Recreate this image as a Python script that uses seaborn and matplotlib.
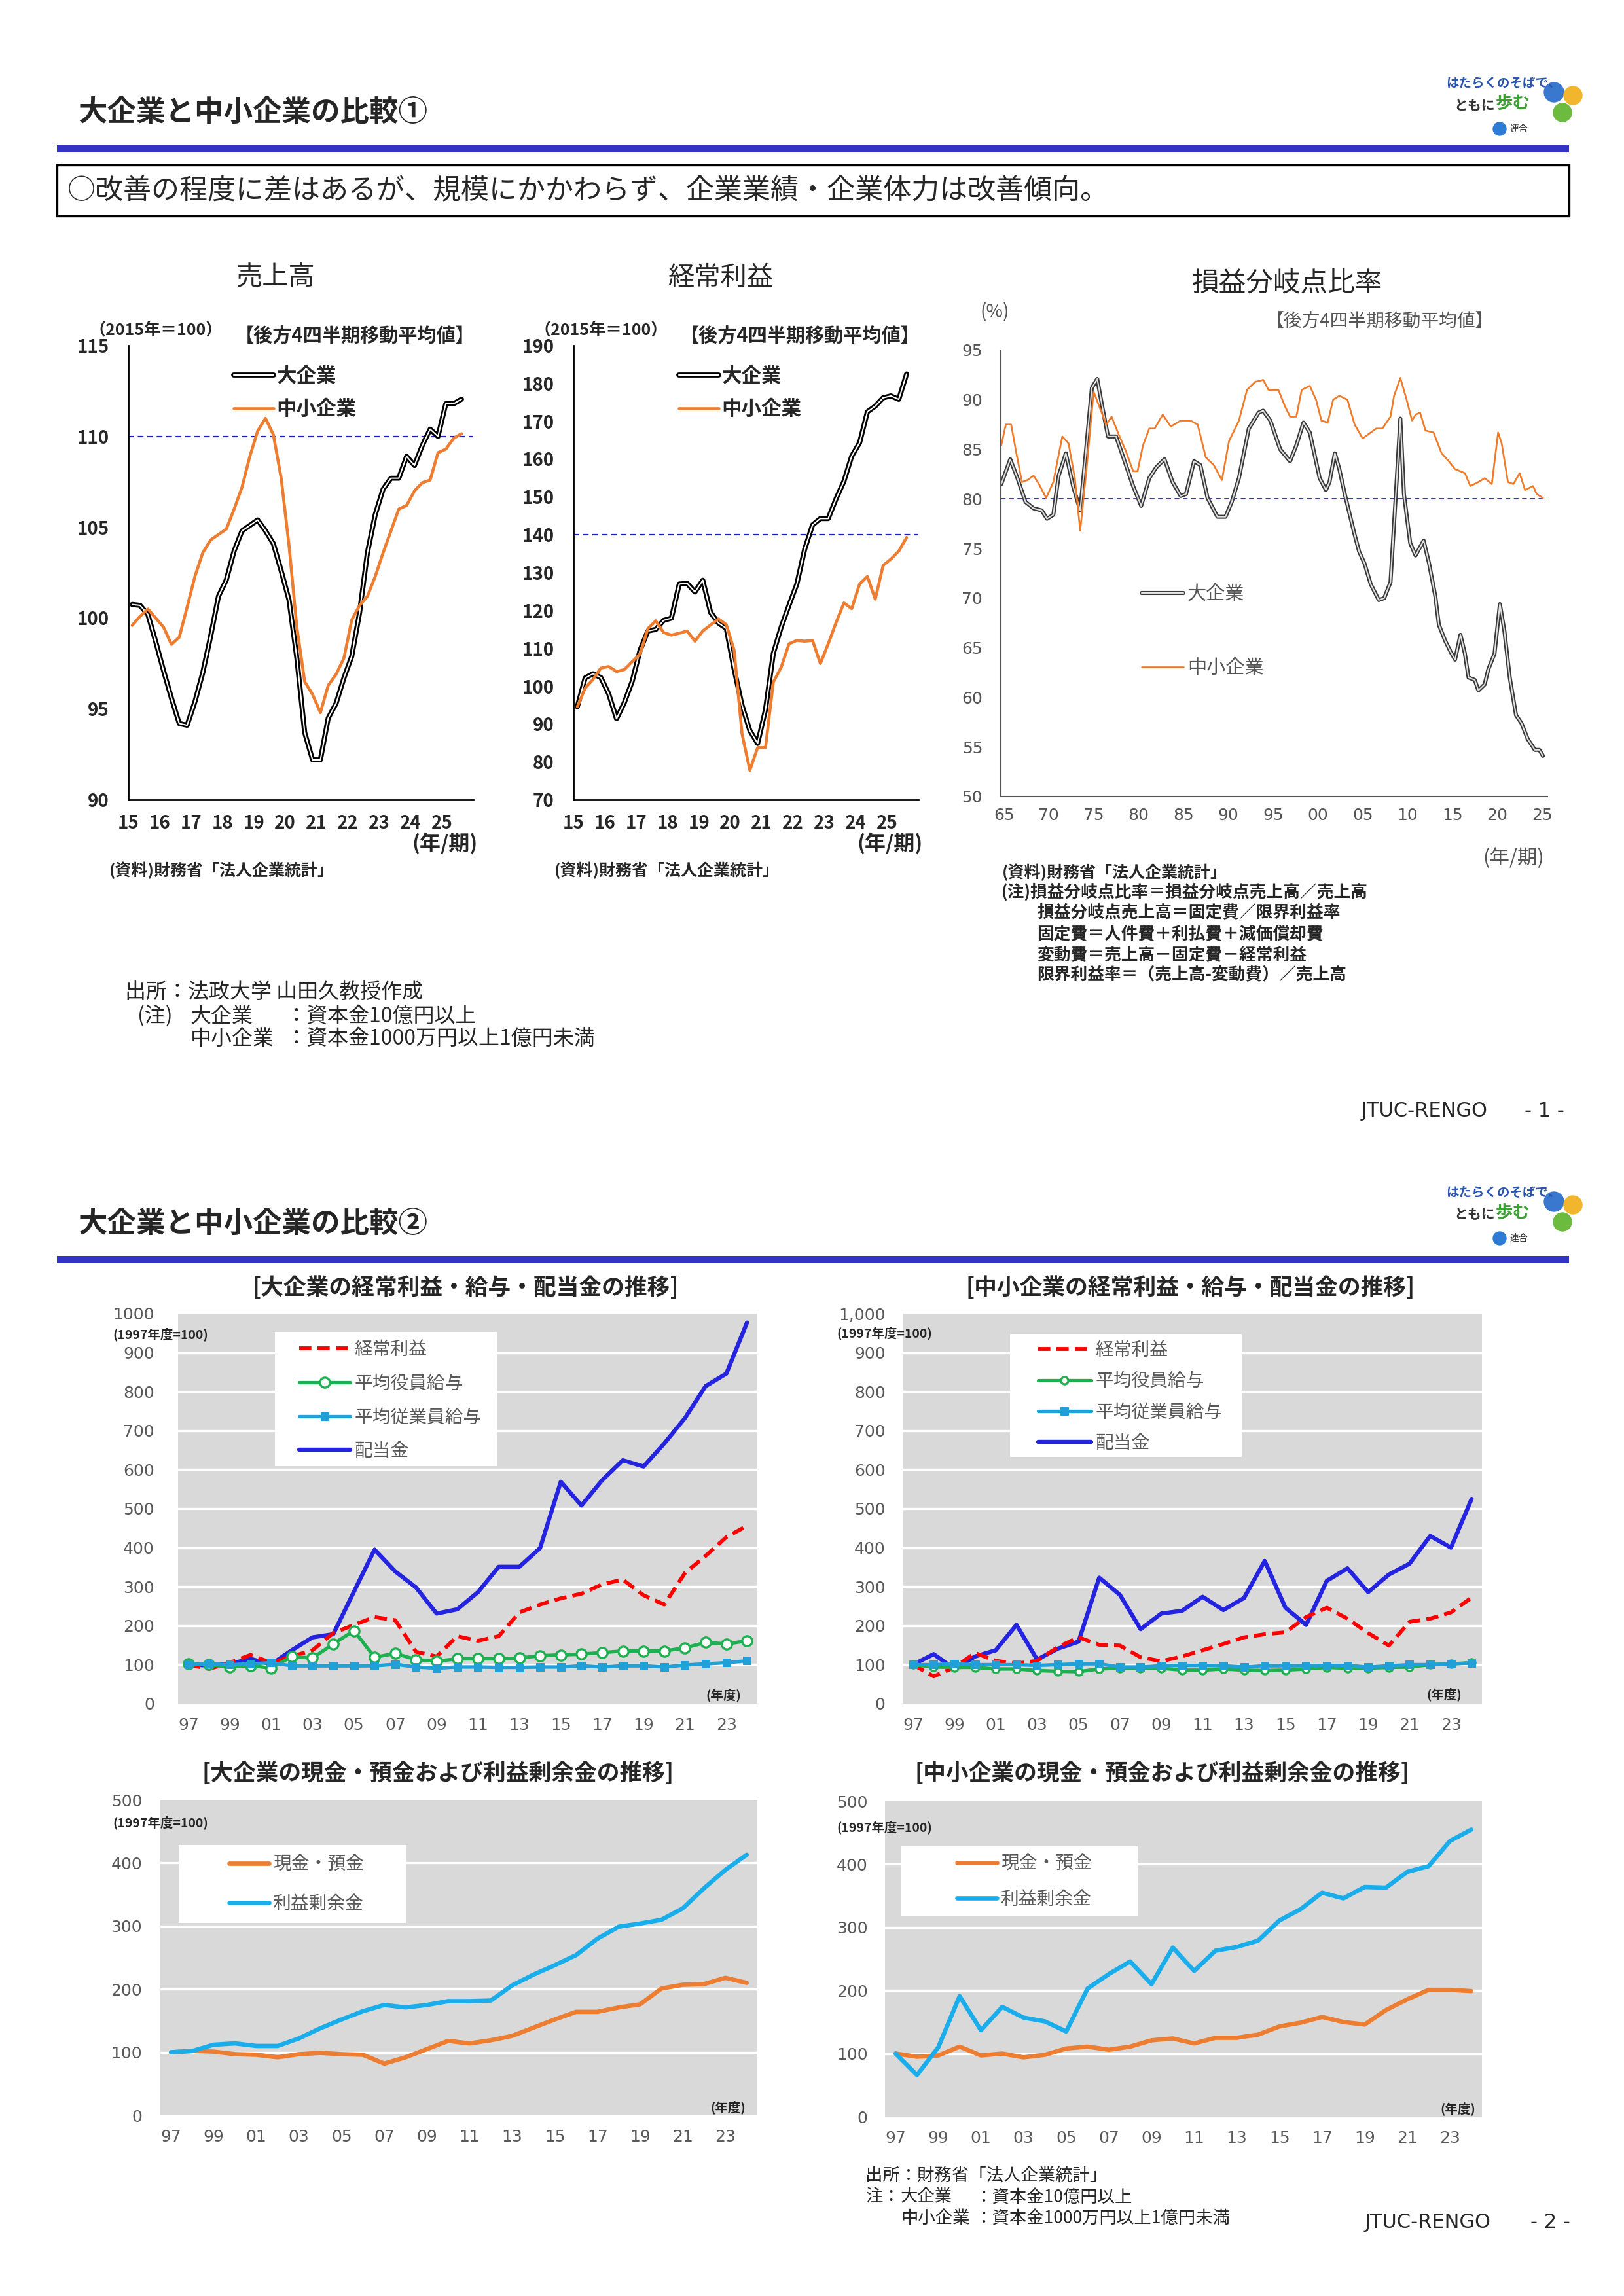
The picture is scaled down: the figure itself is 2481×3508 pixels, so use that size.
import numpy as np
import pandas as pd
import matplotlib
matplotlib.use("Agg")
import matplotlib.pyplot as plt
import matplotlib.patheffects as pe
from matplotlib.patches import Rectangle, Circle
from matplotlib import font_manager
import seaborn as sns

# ---------------- data ----------------
# 売上高 / 経常利益 (2015年=100, 後方4四半期移動平均), 2015Q1 .. 2025Q3
quarter_pos = 15.125 + np.arange(43) / 4

sales_large = [100.75, 100.7, 100.2, 98.7, 97.1, 95.6, 94.2, 94.1, 95.4, 97.0, 99.0, 101.2, 102.1,
               103.7, 104.8, 105.1, 105.4, 104.8, 104.1, 102.6, 101.0, 97.8, 93.7, 92.2, 92.2, 94.5,
               95.3, 96.7, 97.9, 100.3, 103.6, 105.7, 107.1, 107.7, 107.7, 108.9, 108.4, 109.5, 110.4,
               110.0, 111.8, 111.8, 112.05]
sales_small = [99.6, 100.1, 100.5, 100.0, 99.5, 98.55, 98.95, 100.6, 102.3, 103.6, 104.3, 104.6, 104.9,
               106.0, 107.2, 108.9, 110.3, 111.0, 110.1, 107.7, 104.0, 99.5, 96.5, 95.8, 94.8, 96.3,
               96.9, 97.8, 99.9, 100.7, 101.2, 102.3, 103.6, 104.8, 106.0, 106.2, 107.0, 107.45, 107.6,
               109.1, 109.3, 109.9, 110.15]
profit_large = [94.6, 102.2, 103.3, 102.3, 98.0, 91.4, 95.7, 101.3, 109.5, 114.6, 115.0, 117.4, 118.0,
                127.0, 127.2, 124.9, 128.0, 119.5, 116.7, 115.3, 104.5, 95.0, 88.3, 84.9, 93.8, 108.7,
                115.6, 121.4, 127.0, 136.2, 142.6, 144.3, 144.3, 149.5, 154.1, 160.8, 164.3, 172.5,
                174.0, 176.2, 176.7, 175.8, 182.5]
profit_small = [94.6, 99.5, 101.8, 104.8, 105.2, 103.9, 104.4, 106.5, 108.5, 115.2, 117.3, 114.2, 113.5,
                114.0, 114.6, 111.9, 114.6, 116.2, 117.8, 116.3, 109.5, 87.5, 77.8, 83.8, 83.8, 101.1,
                105.0, 111.2, 112.1, 111.9, 112.1, 106.0, 111.2, 116.8, 122.0, 120.5, 127.0, 129.0,
                123.0, 131.9, 133.6, 135.7, 139.3]

# 損益分岐点比率 (%)
be_year_large = [1964.7, 1965.7, 1966.5, 1967.4, 1968.3, 1969.2, 1969.8, 1970.5, 1971.1, 1971.9, 1972.7,
                 1973.5, 1974.2, 1974.8, 1975.4, 1975.9, 1976.6, 1977.5, 1978.3, 1979.4, 1980.3, 1981.2,
                 1982.0, 1982.9, 1983.8, 1984.7, 1985.3, 1986.2, 1986.9, 1987.7, 1988.8, 1989.7, 1990.4,
                 1991.2, 1992.3, 1993.4, 1993.9, 1994.7, 1995.8, 1996.9, 1997.6, 1998.4, 1999.1, 2000.2,
                 2000.9, 2001.3, 2001.9, 2002.4, 2003.0, 2004.1, 2004.6, 2005.2, 2005.9, 2006.8, 2007.4,
                 2008.1, 2008.7, 2009.2, 2009.6, 2010.3, 2010.9, 2011.8, 2012.4, 2013.1, 2013.5, 2014.2,
                 2014.8, 2015.3, 2015.9, 2016.4, 2016.8, 2017.5, 2017.9, 2018.6, 2019.0, 2019.7, 2020.3,
                 2020.8, 2021.4, 2022.1, 2022.7, 2023.4, 2024.2, 2024.7, 2025.1]
be_large = [81.5, 84.0, 82.1, 79.7, 79.05, 78.85, 78.0, 78.4, 82.35, 84.6, 81.3, 78.85, 85.4, 91.2, 92.1,
            89.6, 86.3, 86.3, 84.2, 81.3, 79.3, 82.1, 83.2, 84.0, 81.7, 80.3, 80.5, 83.8, 83.4, 80.1,
            78.2, 78.2, 79.7, 82.1, 87.1, 88.7, 88.9, 87.9, 85.0, 83.8, 85.4, 87.7, 86.7, 82.1, 80.9,
            81.7, 84.6, 83.0, 80.5, 76.4, 74.7, 73.5, 71.4, 69.8, 70.0, 71.6, 80.5, 88.1, 80.5, 75.55,
            74.3, 75.8, 73.5, 70.2, 67.3, 65.7, 64.6, 63.8, 66.3, 64.4, 62.0, 61.75, 60.7, 61.3, 62.8,
            64.4, 69.4, 66.7, 62.0, 58.2, 57.4, 55.8, 54.7, 54.7, 54.1]
be_year_small = [1964.7, 1965.2, 1965.8, 1966.3, 1967.0, 1967.6, 1968.3, 1968.9, 1969.7, 1970.5, 1971.5,
                 1972.2, 1972.9, 1973.5, 1974.2, 1975.0, 1975.7, 1976.4, 1977.0, 1977.7, 1978.6, 1979.4,
                 1979.9, 1980.5, 1981.2, 1981.8, 1982.7, 1983.6, 1984.7, 1985.8, 1986.6, 1987.5, 1988.4,
                 1989.3, 1990.1, 1991.2, 1992.1, 1993.0, 1993.9, 1994.5, 1995.6, 1996.3, 1996.9, 1997.6,
                 1998.2, 1999.1, 1999.8, 2000.4, 2001.1, 2001.7, 2002.4, 2003.3, 2004.1, 2005.0, 2005.9,
                 2006.5, 2007.2, 2008.1, 2008.5, 2009.2, 2009.9, 2010.5, 2010.9, 2011.4, 2012.0, 2012.9,
                 2013.8, 2014.6, 2015.3, 2016.4, 2017.0, 2017.9, 2018.6, 2019.4, 2020.1, 2020.5, 2021.2,
                 2021.8, 2022.5, 2023.1, 2024.0, 2024.4, 2025.1]
be_small = [85.4, 87.5, 87.5, 85.0, 81.7, 81.9, 82.35, 81.5, 80.1, 81.7, 86.3, 85.6, 82.1, 76.8, 83.0,
            90.8, 89.15, 87.5, 88.3, 86.7, 84.8, 82.8, 82.8, 85.4, 87.1, 87.1, 88.5, 87.3, 87.9, 87.9,
            87.5, 84.2, 83.4, 81.9, 85.85, 87.9, 91.0, 91.8, 92.0, 91.0, 91.0, 89.4, 88.3, 88.3, 91.0,
            91.4, 90.0, 87.9, 87.7, 90.0, 90.4, 90.0, 87.5, 86.1, 86.7, 87.1, 87.1, 88.3, 90.4, 92.2,
            90.0, 87.9, 88.5, 88.7, 86.9, 86.7, 84.6, 83.8, 83.0, 82.6, 81.3, 81.7, 82.1, 81.5, 86.7,
            85.6, 81.7, 81.5, 82.6, 80.9, 81.3, 80.5, 80.1]

# page 2 (1997年度=100)
fiscal_years = list(range(1997, 2025))
lg_profit = [100, 89, 105, 125, 105, 121, 137, 181, 202, 222, 214, 133, 121, 173, 161, 173, 234, 254,
             270, 282, 306, 318, 278, 254, 335, 379, 427, 456]
lg_exec = [103, 100, 94, 98, 91, 121, 117, 153, 187, 119, 129, 113, 109, 115, 115, 115, 117, 123, 125,
           127, 131, 135, 135, 135, 143, 157, 153, 161]
lg_emp = [100, 102, 100, 102, 105, 97, 97, 97, 97, 97, 101, 94, 91, 94, 94, 93, 93, 94, 94, 97, 94, 97,
          97, 94, 99, 102, 105, 110]
lg_div = [100, 98, 102, 115, 101, 137, 170, 178, 287, 395, 339, 298, 231, 242, 286, 351, 351, 399, 569,
          508, 573, 624, 608, 667, 732, 814, 846, 977]
sm_profit = [100, 70, 93, 130, 110, 103, 110, 145, 170, 151, 149, 119, 109, 121, 137, 153, 170, 178,
             183, 222, 246, 218, 181, 149, 210, 218, 234, 272]
sm_exec = [100, 94, 93, 93, 89, 89, 85, 83, 82, 89, 91, 91, 91, 86, 86, 89, 86, 85, 86, 89, 93, 91, 91,
           93, 94, 100, 102, 105]
sm_emp = [100, 100, 102, 100, 100, 100, 98, 100, 102, 102, 94, 94, 97, 98, 98, 97, 94, 97, 97, 97, 98,
          98, 94, 97, 100, 100, 102, 104]
sm_div = [100, 127, 89, 121, 137, 202, 113, 141, 159, 323, 279, 191, 231, 238, 274, 240, 271, 366, 246,
          202, 315, 347, 286, 331, 359, 430, 400, 525]
lg_cash = [100, 102, 101, 97, 96, 92, 97, 99, 97, 96, 82, 92, 105, 118, 114, 119, 126, 139, 152, 164,
           164, 171, 176, 201, 207, 208, 218, 210]
lg_retained = [100, 102, 112, 114, 110, 110, 122, 138, 152, 165, 175, 171, 175, 181, 181, 182, 206, 223,
               238, 254, 280, 299, 304, 310, 328, 360, 389, 413]
sm_cash = [100, 95, 97, 111, 97, 100, 94, 98, 108, 111, 106, 111, 121, 124, 116, 125, 125, 130, 143,
           149, 158, 150, 146, 169, 186, 201, 201, 199]
sm_retained = [100, 66, 110, 191, 137, 174, 157, 151, 135, 203, 226, 246, 210, 268, 231, 263, 269, 279,
               311, 329, 355, 346, 364, 363, 388, 397, 437, 455]

# ---------------- setup ----------------
sns.set_style("white")
plt.rcParams["font.family"] = ["Noto Sans CJK JP", "DejaVu Sans"]
names = {f.name for f in font_manager.fontManager.ttflist}
NARROW = "Liberation Sans Narrow" if "Liberation Sans Narrow" in names else "DejaVu Sans"

W, H = 2481, 3508
fig = plt.figure(figsize=(W / 100, H / 100), dpi=100)
fig.patch.set_facecolor("white")

GRAY_TXT = "#595959"
ORANGE = "#ED7D31"


def box(x0, y0, x1, y1):
    return fig.add_axes([x0 / W, 1 - y1 / H, (x1 - x0) / W, (y1 - y0) / H])


def txt(x, y, s, size, ha="left", va="center", **kw):
    fig.text(x / W, 1 - y / H, s, fontsize=size, ha=ha, va=va, **kw)


def logo(y0):
    # rough copy of the RENGO logo, local pixel units
    lax = box(2185, y0, 2425, y0 + 115)
    lax.set_xlim(0, 240)
    lax.set_ylim(115, 0)
    lax.axis("off")
    lax.add_patch(Circle((189, 38), 15, color="#3A78D0"))
    lax.add_patch(Circle((218, 43), 14, color="#F2B62E"))
    lax.add_patch(Circle((202, 69), 14, color="#6DBB3E"))
    lax.text(24, 24, "はたらくのそばで、", fontsize=14, color="#2A55B0", weight="bold", va="center")
    lax.text(36, 58, "ともに", fontsize=15, color="#333333", weight="bold", va="center")
    lax.text(100, 56, "歩む", fontsize=19, color="#3DA035", weight="bold", va="center")
    lax.add_patch(Circle((106, 94), 10, color="#2E7BD6"))
    lax.text(122, 94, "連合", fontsize=10, color="#333333", va="center")


def header(title, y_title, y_bar, y_logo):
    txt(119, y_title, title, 32, weight="bold")
    fig.add_artist(Rectangle((87 / W, 1 - (y_bar + 11) / H), (2397 - 87) / W, 11 / H,
                             transform=fig.transFigure, color="#3434C4", lw=0))
    logo(y_logo)


# ================= page 1 =================
header("大企業と中小企業の比較①", 172, 222, 103)
fig.add_artist(Rectangle((87 / W, 1 - 330 / H), (2397 - 87) / W, 78 / H, transform=fig.transFigure,
                         facecolor="none", edgecolor="black", lw=2.4))
txt(103, 292, "○改善の程度に差はあるが、規模にかかわらず、企業業績・企業体力は改善傾向。", 31)


def quarterly_chart(x0, large, small, ylim, ystep, ref, title):
    ax = box(x0, 528, x0 + 527, 1222)
    df = pd.DataFrame({"q": quarter_pos, "large": large, "small": small})
    sns.lineplot(data=df, x="q", y="large", ax=ax, color="white", lw=1.5, label="大企業", legend=False,
                 path_effects=[pe.Stroke(linewidth=5.6, foreground="black"), pe.Normal()])
    sns.lineplot(data=df, x="q", y="small", ax=ax, color=ORANGE, lw=3.3, label="中小企業", legend=False)
    ax.axhline(ref, color="#1F1FC0", lw=1.6, ls=(0, (4, 2.5)), zorder=1)
    ax.set(xlabel="", ylabel="", xlim=(15, 26), ylim=ylim)
    yt = list(range(ylim[0], ylim[1] + 1, ystep))
    ax.set_yticks(yt, labels=[str(v) for v in yt], fontsize=20, fontweight="bold")
    ax.set_xticks(range(15, 27), labels=[str(v) for v in range(15, 26)] + [""], fontsize=20,
                  fontweight="bold")
    ax.tick_params(axis="y", direction="in", length=8, width=1.6, pad=21)
    ax.tick_params(axis="x", direction="out", length=7, width=1.6, pad=9)
    for s in ("top", "right"):
        ax.spines[s].set_visible(False)
    for s in ("left", "bottom"):
        ax.spines[s].set_linewidth(2)
        ax.spines[s].set_color("black")
    ax.legend(loc="upper left", bbox_to_anchor=((x0 + 161) / W, 1 - 559 / H), bbox_transform=fig.transFigure,
              frameon=False, prop={"size": 22, "weight": "bold"}, handlelength=2.0, handletextpad=0.15,
              labelspacing=0.6, borderpad=0, borderaxespad=0)
    txt(x0 + 225, 424, title, 29, ha="center")
    txt(x0 - 60, 505, "（2015年＝100）", 18, weight="bold")
    txt(x0 + 163, 514, "【後方4四半期移動平均値】", 21, weight="bold")
    txt(x0 + 483, 1289, "(年/期)", 23, ha="center", weight="bold")
    txt(x0 - 29, 1330, "(資料)財務省「法人企業統計」", 18, weight="bold")
    return ax


quarterly_chart(196, sales_large, sales_small, (90, 115), 5, 110, "売上高")
quarterly_chart(876, profit_large, profit_small, (70, 190), 10, 140, "経常利益")

# 損益分岐点比率
ax3 = box(1529, 535, 2364, 1217)
dfl = pd.DataFrame({"year": be_year_large, "ratio": be_large})
dfs = pd.DataFrame({"year": be_year_small, "ratio": be_small})
sns.lineplot(data=dfl, x="year", y="ratio", ax=ax3, color="#E2E2E2", lw=1.5, label="大企業", legend=False,
             path_effects=[pe.Stroke(linewidth=4.4, foreground="#3A3A3A"), pe.Normal()])
sns.lineplot(data=dfs, x="year", y="ratio", ax=ax3, color="#EE7A2A", lw=1.9, label="中小企業", legend=False)
ax3.axhline(80, color="#1F1FC0", lw=1.3, ls=(0, (4, 3)), zorder=1)
ax3.set(xlabel="", ylabel="", xlim=(1964.65, 2025.6), ylim=(50, 95))
ax3.set_xticks(range(1965, 2026, 5), labels=[f"{y % 100:02d}" for y in range(1965, 2026, 5)],
               fontsize=18, family=NARROW, color="#555555")
ax3.set_xticks(range(1965, 2026), minor=True)
ax3.set_yticks(range(50, 96, 5), labels=[str(v) for v in range(50, 96, 5)], fontsize=18, family=NARROW,
               color="#555555")
ax3.tick_params(axis="both", which="both", direction="in", color="#555555", width=1.2)
ax3.tick_params(axis="x", which="major", length=7, pad=12)
ax3.tick_params(axis="x", which="minor", length=5)
ax3.tick_params(axis="y", length=7, pad=20)
for s in ("top", "right"):
    ax3.spines[s].set_visible(False)
for s in ("left", "bottom"):
    ax3.spines[s].set_color("#555555")
    ax3.spines[s].set_linewidth(1.5)
ax3.legend(loc="upper left", bbox_to_anchor=(1744 / W, 1 - 893 / H), bbox_transform=fig.transFigure,
           frameon=False, fontsize=21, labelcolor="#555555", handlelength=2.2, handletextpad=0.2,
           labelspacing=2.85, borderpad=0, borderaxespad=0)
txt(1966, 433, "損益分岐点比率", 30, ha="center")
txt(1520, 477, "(%)", 20, ha="center", color="#555555")
txt(1933, 492, "【後方4四半期移動平均値】", 20, color="#555555")
txt(2312, 1311, "(年/期)", 22, ha="center", color="#555555")
txt(1531, 1333, "(資料)財務省「法人企業統計」", 18, weight="bold")
notes = [(1530, 1363, "(注)損益分岐点比率＝損益分岐点売上高／売上高"),
         (1584, 1395, "損益分岐点売上高＝固定費／限界利益率"),
         (1584, 1428, "固定費＝人件費＋利払費＋減価償却費"),
         (1584, 1460, "変動費＝売上高－固定費－経常利益"),
         (1584, 1490, "限界利益率＝（売上高-変動費）／売上高")]
for x, y, s in notes:
    txt(x, y, s, 18.5, weight="bold")

txt(191, 1517, "出所：法政大学 山田久教授作成", 23)
txt(210, 1553, "(注)", 23)
txt(291, 1553, "大企業", 23)
txt(436, 1553, "：資本金10億円以上", 23)
txt(291, 1587, "中小企業", 23)
txt(436, 1587, "：資本金1000万円以上1億円未満", 23)
txt(2080, 1697, "JTUC-RENGO", 22, family=NARROW)
txt(2329, 1697, "- 1 -", 22, family=NARROW)

# ================= page 2 =================
header("大企業と中小企業の比較②", 1870, 1919, 1798)


def style_page2(ax, ymax, top_label, ypad):
    ax.set_facecolor("#D9D9D9")
    ax.set(xlabel="", ylabel="", xlim=(-0.5, 27.5), ylim=(0, ymax))
    ax.set_xticks(np.arange(0, 28, 2), labels=[f"{y % 100:02d}" for y in fiscal_years[::2]])
    ax.set_xticks(np.arange(-0.5, 28, 1), minor=True)
    yt = list(range(0, ymax + 1, 100))
    ax.set_yticks(yt, labels=[str(v) for v in yt[:-1]] + [top_label])
    for lab in ax.get_xticklabels() + ax.get_yticklabels():
        lab.set_fontfamily("DejaVu Sans")
    ax.tick_params(axis="x", which="major", length=0, pad=15, labelsize=18, labelcolor=GRAY_TXT)
    ax.tick_params(axis="x", which="minor", length=8, width=1.5, color="#BFBFBF", direction="out")
    ax.tick_params(axis="y", length=0, pad=ypad, labelsize=18, labelcolor=GRAY_TXT)
    ax.grid(axis="y", color="white", lw=2.4)
    ax.set_axisbelow(True)
    gl = ax.yaxis.get_gridlines()
    gl[0].set_visible(False)
    gl[-1].set_visible(False)
    for s in ax.spines.values():
        s.set_visible(False)


def white_box(ax, x0, y0, x1, y1):
    ax.add_patch(Rectangle((x0 / W, 1 - y1 / H), (x1 - x0) / W, (y1 - y0) / H, transform=fig.transFigure,
                           facecolor="white", edgecolor="none", zorder=4))


def income_chart(x0, x1, profit, execs, emps, divs, top_label, ypad, lbox, lanchor, lspacing, hlen,
                 ms_c, ms_s, title, base_xy, nendo_xy):
    ax = box(x0, 2007, x1, 2603)
    df = pd.DataFrame({"i": np.arange(len(fiscal_years)), "profit": profit, "exec": execs,
                       "emp": emps, "div": divs})
    sns.lineplot(data=df, x="i", y="div", ax=ax, color="#2424E0", lw=4.6, label="配当金", legend=False)
    sns.lineplot(data=df, x="i", y="profit", ax=ax, color="#FF0000", lw=4.2, ls=(0, (3.2, 1.6)),
                 label="経常利益", legend=False)
    sns.lineplot(data=df, x="i", y="exec", ax=ax, color="#1DB050", lw=3.8, marker="o", markersize=ms_c,
                 markerfacecolor="white", markeredgecolor="#1DB050", markeredgewidth=2.4,
                 label="平均役員給与", legend=False)
    sns.lineplot(data=df, x="i", y="emp", ax=ax, color="#21A0D8", lw=3.8, marker="s", markersize=ms_s,
                 markeredgecolor="#21A0D8", label="平均従業員給与", legend=False)
    style_page2(ax, 1000, top_label, ypad)
    white_box(ax, *lbox)
    h, l = ax.get_legend_handles_labels()
    hm = dict(zip(l, h))
    order = ["経常利益", "平均役員給与", "平均従業員給与", "配当金"]
    leg = ax.legend([hm[k] for k in order], order, loc="upper left",
                    bbox_to_anchor=(lanchor[0] / W, 1 - lanchor[1] / H), bbox_transform=fig.transFigure,
                    frameon=False, fontsize=20, labelcolor=GRAY_TXT, handlelength=hlen, handletextpad=0.25,
                    labelspacing=lspacing, borderpad=0, borderaxespad=0, numpoints=1)
    leg.set_zorder(6)
    txt((x0 + x1) / 2 - 3, 1967, title, 25, ha="center", weight="bold")
    txt(*base_xy, "(1997年度=100)", 14, weight="bold")
    txt(*nendo_xy, "(年度)", 14, ha="center", weight="bold")


income_chart(272, 1157, lg_profit, lg_exec, lg_emp, lg_div, "1000", 26, (420, 2035, 759, 2240),
             (457, 2047), 0.78, 2.8, 11, 9, "[大企業の経常利益・給与・配当金の推移]", (172, 2039), (1105, 2590))
income_chart(1379, 2264, sm_profit, sm_exec, sm_emp, sm_div, "1,000", 19, (1543, 2038, 1897, 2226),
             (1586, 2048), 0.62, 2.9, 8, 9, "[中小企業の経常利益・給与・配当金の推移]", (1278, 2037), (2206, 2589))


def cash_chart(x0, y0, x1, y1, cash, retained, ypad, lbox, lanchor, lspacing, title, tx, base_xy, nendo_xy):
    ax = box(x0, y0, x1, y1)
    df = pd.DataFrame({"i": np.arange(len(fiscal_years)), "cash": cash, "ret": retained})
    sns.lineplot(data=df, x="i", y="cash", ax=ax, color=ORANGE, lw=4.8, label="現金・預金", legend=False)
    sns.lineplot(data=df, x="i", y="ret", ax=ax, color="#19AEEB", lw=4.8, label="利益剰余金", legend=False)
    style_page2(ax, 500, "500", ypad)
    white_box(ax, *lbox)
    leg = ax.legend(loc="upper left", bbox_to_anchor=(lanchor[0] / W, 1 - lanchor[1] / H),
                    bbox_transform=fig.transFigure, frameon=False, fontsize=20, labelcolor=GRAY_TXT,
                    handlelength=2.2, handletextpad=0.2, labelspacing=lspacing, borderpad=0, borderaxespad=0)
    leg.set_zorder(6)
    txt(tx, 2709, title, 25, ha="center", weight="bold")
    txt(*base_xy, "(1997年度=100)", 14, weight="bold")
    txt(*nendo_xy, "(年度)", 14, ha="center", weight="bold")


cash_chart(245, 2750, 1157, 3232, lg_cash, lg_retained, 20, (273, 2819, 620, 2938), (350, 2834), 1.08,
           "[大企業の現金・預金および利益剰余金の推移]", 669, (172, 2785), (1112, 3220))
cash_chart(1352, 2752, 2264, 3234, sm_cash, sm_retained, 19, (1376, 2821, 1738, 2928), (1462, 2833), 0.86,
           "[中小企業の現金・預金および利益剰余金の推移]", 1775, (1278, 2792), (2227, 3222))

txt(1322, 3325, "出所：財務省「法人企業統計」", 19)
txt(1322, 3357, "注：", 19)
txt(1376, 3357, "大企業", 19)
txt(1490, 3357, "：資本金10億円以上", 19)
txt(1376, 3389, "中小企業", 19)
txt(1490, 3389, "：資本金1000万円以上1億円未満", 19)
txt(2085, 3395, "JTUC-RENGO", 22, family=NARROW)
txt(2338, 3395, "- 2 -", 22, family=NARROW)

fig.savefig("out.png", dpi=100, facecolor="white")
